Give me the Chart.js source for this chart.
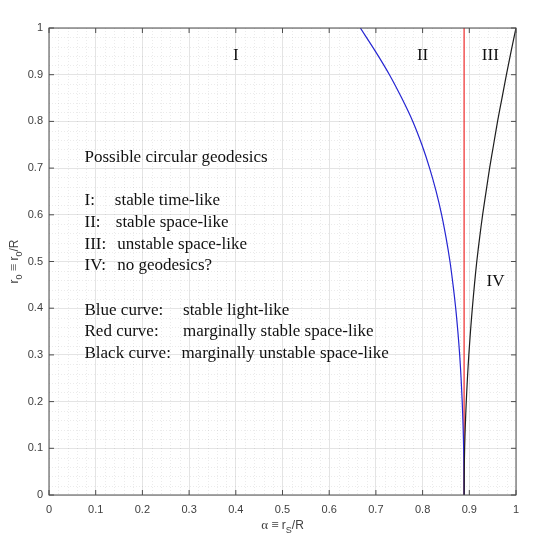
<!DOCTYPE html>
<html>
<head>
<meta charset="utf-8">
<script src="https://cdn.jsdelivr.net/npm/chart.js@4.4.0/dist/chart.umd.min.js"></script>
<style>
    html, body { margin: 0; padding: 0; background: #fff; }
    #wrap { width: 540px; height: 541px; position: relative; }
</style>
</head>
<body>
<div id="wrap"><canvas id="chart"></canvas></div>
<script>
// blue curve: stable light-like (alpha for each r0)
const blueR0 = [1, 0.95, 0.9, 0.85, 0.8, 0.75, 0.7, 0.65, 0.6, 0.55, 0.5, 0.45, 0.4, 0.35, 0.3, 0.25, 0.2, 0.15, 0.1, 0.05, 0];
const blueAlpha = [0.6667, 0.699, 0.729, 0.7553, 0.779, 0.7985, 0.815, 0.829, 0.8408, 0.8504, 0.8586, 0.8652, 0.8709, 0.8755, 0.8794, 0.8824, 0.8848, 0.8866, 0.8879, 0.8886, 0.8889];

// black curve: marginally unstable space-like
const blackR0 = [1, 0.95, 0.9, 0.85, 0.8, 0.75, 0.7, 0.65, 0.6, 0.55, 0.5, 0.45, 0.4, 0.35, 0.3, 0.25, 0.2, 0.15, 0.1, 0.05, 0];
const blackAlpha = [1.0, 0.9895, 0.9795, 0.970, 0.9605, 0.952, 0.9435, 0.936, 0.9285, 0.922, 0.916, 0.911, 0.9065, 0.9025, 0.899, 0.896, 0.8935, 0.8915, 0.89, 0.8892, 0.8889];

// red curve: marginally stable space-like
const redR0 = [0, 1];
const redAlpha = [0.8889, 0.8889];

// axis ticks
const tickValues = [0, 0.1, 0.2, 0.3, 0.4, 0.5, 0.6, 0.7, 0.8, 0.9, 1];
const tickLabels = ['0', '0.1', '0.2', '0.3', '0.4', '0.5', '0.6', '0.7', '0.8', '0.9', '1'];

// region names and the text block
const regionNames = ['I', 'II', 'III', 'IV'];
const noteHeads = ['Possible circular geodesics', 'I:', 'II:', 'III:', 'IV:', 'Blue curve:', 'Red curve:', 'Black curve:'];
const noteTexts = ['', 'stable time-like', 'stable space-like', 'unstable space-like', 'no geodesics?',
    'stable light-like', 'marginally stable space-like', 'marginally unstable space-like'];

// where the texts sit (data coordinates)
const LAYOUT = {
    regions: [[0.4, 0.94], [0.8, 0.94], [0.945, 0.94], [0.956, 0.457]],
    noteX: 0.076,
    noteX2: [0, 0.141, 0.143, 0.146, 0.146, 0.287, 0.287, 0.2835],
    noteY: [0.714, 0.622, 0.574, 0.527, 0.481, 0.386, 0.340, 0.293]
};

const SERIF = '17px "Liberation Serif", "Times New Roman", serif';
const SANS = '"Liberation Sans", Arial, sans-serif';
const TICK_COLOR = '#404040';

const toPoints = (xs, ys) => xs.map((x, i) => ({ x: x, y: ys[i] }));

// draws a string made of normal / subscript pieces, centred on x
function drawParts(ctx, parts, x, y) {
    let total = 0;
    parts.forEach(p => {
        ctx.font = p.sub ? '9px ' + SANS : (p.serif ? '13px "Liberation Serif", serif' : '12px ' + SANS);
        p.w = ctx.measureText(p.t).width;
        total += p.w;
    });
    let cx = x - total / 2;
    parts.forEach(p => {
        ctx.font = p.sub ? '9px ' + SANS : (p.serif ? '13px "Liberation Serif", serif' : '12px ' + SANS);
        ctx.fillText(p.t, cx, p.sub ? y + 4 : y);
        cx += p.w;
    });
}

// matlab style: dotted minor grid, box, inward ticks, texts
const matlabFrame = {
    id: 'matlabFrame',
    beforeDatasetsDraw(chart) {
        const { ctx, chartArea: a, scales: { x, y } } = chart;
        ctx.save();
        ctx.strokeStyle = 'rgba(0,0,0,0.08)';
        ctx.lineWidth = 1;
        ctx.setLineDash([1, 2]);
        for (let k = 1; k < 50; k++) {
            if (k % 5 === 0) continue;
            const v = k / 50;
            const px = Math.round(x.getPixelForValue(v)) + 0.5;
            const py = Math.round(y.getPixelForValue(v)) + 0.5;
            ctx.beginPath();
            ctx.moveTo(px, a.top); ctx.lineTo(px, a.bottom);
            ctx.moveTo(a.left, py); ctx.lineTo(a.right, py);
            ctx.stroke();
        }
        ctx.restore();
    },
    afterDatasetsDraw(chart) {
        const { ctx, chartArea: a, scales: { x, y } } = chart;
        ctx.save();
        ctx.strokeStyle = '#4d4d4d';
        ctx.lineWidth = 1;
        ctx.strokeRect(a.left, a.top, a.right - a.left, a.bottom - a.top);
        ctx.beginPath();
        tickValues.forEach(v => {
            const px = x.getPixelForValue(v);
            const py = y.getPixelForValue(v);
            ctx.moveTo(px, a.bottom); ctx.lineTo(px, a.bottom - 5);
            ctx.moveTo(px, a.top); ctx.lineTo(px, a.top + 5);
            ctx.moveTo(a.left, py); ctx.lineTo(a.left + 5, py);
            ctx.moveTo(a.right, py); ctx.lineTo(a.right - 5, py);
        });
        ctx.stroke();

        // region names
        ctx.fillStyle = '#111';
        ctx.font = SERIF;
        ctx.textAlign = 'center';
        ctx.textBaseline = 'middle';
        regionNames.forEach((t, i) => {
            const p = LAYOUT.regions[i];
            ctx.fillText(t, x.getPixelForValue(p[0]), y.getPixelForValue(p[1]));
        });

        // text block
        ctx.textAlign = 'left';
        ctx.textBaseline = 'alphabetic';
        noteHeads.forEach((t, i) => {
            const py = y.getPixelForValue(LAYOUT.noteY[i]);
            ctx.fillText(t, x.getPixelForValue(LAYOUT.noteX), py);
            if (noteTexts[i]) ctx.fillText(noteTexts[i], x.getPixelForValue(LAYOUT.noteX2[i]), py);
        });

        // axis titles with subscripts
        ctx.fillStyle = TICK_COLOR;
        const cx = (a.left + a.right) / 2;
        drawParts(ctx, [{ t: 'α ≡ ', serif: true }, { t: 'r' }, { t: 'S', sub: true }, { t: '/R' }], cx, a.bottom + 34);
        ctx.translate(18, (a.top + a.bottom) / 2);
        ctx.rotate(-Math.PI / 2);
        drawParts(ctx, [{ t: 'r' }, { t: '0', sub: true }, { t: ' ≡ ', serif: true }, { t: 'r' }, { t: '0', sub: true }, { t: '/R' }], 0, 0);
        ctx.restore();
    }
};

const axisBase = {
    type: 'linear',
    min: 0,
    max: 1,
    afterBuildTicks: s => { s.ticks = tickValues.map(v => ({ value: v })); },
    grid: { color: '#e4e4e4', drawTicks: false },
    border: { display: false }
};

new Chart(document.getElementById('chart'), {
    type: 'scatter',
    data: {
        datasets: [
            {
                label: 'Black curve',
                data: toPoints(blackAlpha, blackR0),
                showLine: true,
                borderColor: '#1e1e1e',
                borderWidth: 1.2,
                pointRadius: 0,
                tension: 0.3,
                order: 1
            },
            {
                label: 'Blue curve',
                data: toPoints(blueAlpha, blueR0),
                showLine: true,
                borderColor: '#2525d2',
                borderWidth: 1.2,
                pointRadius: 0,
                tension: 0.3,
                order: 2
            },
            {
                label: 'Red curve',
                data: toPoints(redAlpha, redR0),
                showLine: true,
                borderColor: 'rgba(238,50,50,0.9)',
                borderWidth: 1.4,
                pointRadius: 0,
                order: 3
            }
        ]
    },
    options: {
        responsive: true,
        maintainAspectRatio: false,
        animation: false,
        layout: { padding: { top: 28, right: 24, left: 0, bottom: 0 } },
        plugins: {
            legend: { display: false },
            tooltip: { enabled: false }
        },
        scales: {
            x: Object.assign({}, axisBase, {
                ticks: {
                    callback: (v, i) => tickLabels[i],
                    color: TICK_COLOR,
                    font: { family: SANS, size: 11 },
                    padding: 8,
                    maxRotation: 0,
                    autoSkip: false
                },
                afterFit: s => { s.height = 46; }
            }),
            y: Object.assign({}, axisBase, {
                ticks: {
                    callback: (v, i) => tickLabels[i],
                    color: TICK_COLOR,
                    font: { family: SANS, size: 11 },
                    padding: 6,
                    autoSkip: false
                },
                afterFit: s => { s.width = 49; }
            })
        }
    },
    plugins: [matlabFrame]
});
</script>
</body>
</html>
